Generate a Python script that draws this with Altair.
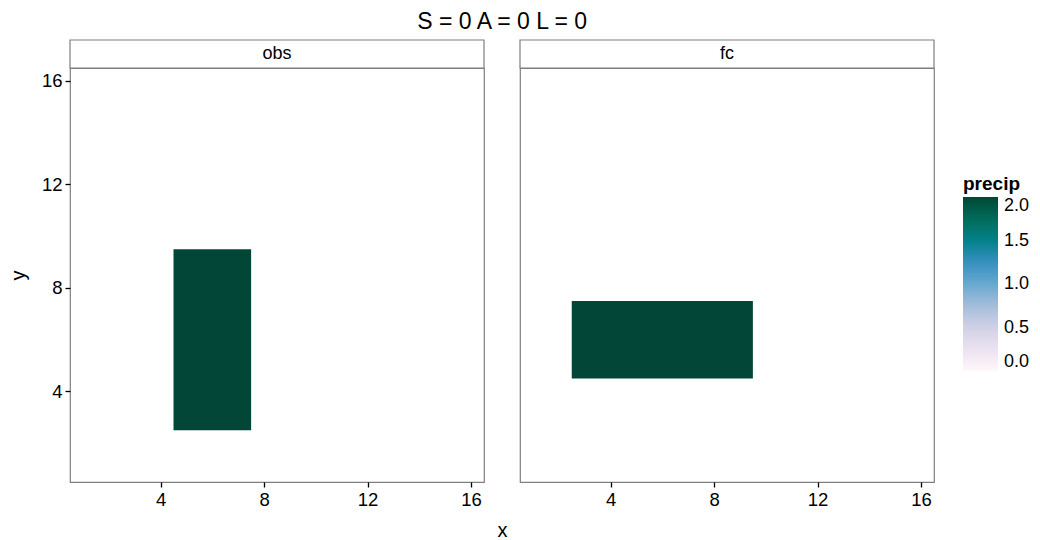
import altair as alt
import pandas as pd

# ---- data ----
panels = ["obs", "fc"]
grid_cols = list(range(1, 17))
grid_rows = list(range(1, 17))
obs_cols = [5, 6, 7]
obs_rows = [3, 4, 5, 6, 7, 8, 9]
fc_cols = [3, 4, 5, 6, 7, 8, 9]
fc_rows = [5, 6, 7]
rain_value = 2.0
x_ticks = [4, 8, 12, 16]
y_ticks = [4, 8, 12, 16]
legend_values = [0.0, 0.5, 1.0, 1.5, 2.0]
title_text = "S = 0 A = 0 L = 0"
pubugn = ["#fff7fb", "#ece2f0", "#d0d1e6", "#a6bddb", "#67a9cf",
          "#3690c0", "#02818a", "#016c59", "#014636"]

FONT = "Liberation Sans"
W = 414
H = 414
STRIP = 28
GRAY = "#7f7f7f"


def grid_frame(cols, rows):
    recs = []
    for c in grid_cols:
        for r in grid_rows:
            p = rain_value if (c in cols and r in rows) else 0.0
            recs.append({"x": c, "y": r, "precip": p})
    return pd.DataFrame(recs)


cscale = alt.Scale(domain=[0, 2], range=pubugn, interpolate="rgb")
legend = alt.Legend(
    title="precip",
    values=legend_values,
    format=".1f",
    orient="none",
    legendX=893,
    legendY=107,
    gradientLength=174,
    gradientThickness=35,
    gradientStrokeWidth=0,
    titleFont=FONT,
    titleFontSize=19,
    titleFontWeight="bold",
    titleColor="black",
    titlePadding=3,
    labelFont=FONT,
    labelFontSize=18,
    labelColor="black",
    labelOffset=6,
    direction="vertical",
)
color = alt.Color("precip:Q", scale=cscale, legend=legend)


def panel(name, cols, rows, first):
    df = grid_frame(cols, rows)
    xscale = alt.Scale(domain=[0.5, 16.5], nice=False, zero=False)
    yscale = alt.Scale(domain=[0.5, 16.5], nice=False, zero=False)
    xaxis = alt.Axis(values=x_ticks, title="x" if first else None,
                     titleX=W + 18, titleY=38, titleFontSize=20, titleFontWeight="normal")
    if first:
        yaxis = alt.Axis(values=y_ticks, title="y", titleFontSize=20,
                         titleFontWeight="normal", titlePadding=12.5)
    else:
        yaxis = alt.Axis(values=y_ticks, title=None, labels=False, ticks=False)
    # contiguous cells of equal precip merged into one block (avoids seams)
    tiles = (
        alt.Chart(df)
        .transform_filter("datum.precip > 0")
        .transform_calculate(x0="datum.x - 0.5", x1="datum.x + 0.5",
                             y0="datum.y - 0.5", y1="datum.y + 0.5")
        .transform_aggregate(
            bx0="min(x0)", bx1="max(x1)", by0="min(y0)", by1="max(y1)",
            groupby=["precip"],
        )
        .mark_rect()
        .encode(
            x=alt.X("bx0:Q", scale=xscale, axis=xaxis),
            x2="bx1:Q",
            y=alt.Y("by0:Q", scale=yscale, axis=yaxis),
            y2="by1:Q",
            color=color,
        )
    )
    label_df = pd.DataFrame({"panel": [name]})
    strip_box = alt.Chart(label_df).mark_rect(
        fill="white", stroke=GRAY, strokeWidth=1.2
    ).encode(
        x=alt.value(0), x2=alt.value(W), y=alt.value(-STRIP), y2=alt.value(0)
    )
    strip_text = alt.Chart(label_df).mark_text(
        font=FONT, fontSize=18, color="black", baseline="middle", align="center"
    ).encode(
        x=alt.value(W / 2), y=alt.value(-STRIP / 2), text="panel:N"
    )
    return alt.layer(tiles, strip_box, strip_text).properties(width=W, height=H)


left = panel(panels[0], obs_cols, obs_rows, True)
right = panel(panels[1], fc_cols, fc_rows, False)

chart = (
    alt.hconcat(left, right, spacing=36, bounds="flush")
    .resolve_scale(color="shared")
    .properties(
        title=alt.Title(title_text, font=FONT, fontSize=23, fontWeight="normal",
                        color="black", anchor="middle", offset=5, dx=-17),
        padding={"left": 0, "top": 2, "right": 0, "bottom": 0},
        background="white",
    )
    .configure_view(stroke=GRAY, strokeWidth=1.2)
    .configure_axis(
        labelFont=FONT, labelFontSize=18.5, labelColor="black",
        titleFont=FONT, titleColor="black",
        tickColor="black", tickSize=5, tickWidth=1.3,
        domain=False, grid=False, labelPadding=3,
    )
)

chart.save("out.html", embed_options={"renderer": "svg", "actions": False})
